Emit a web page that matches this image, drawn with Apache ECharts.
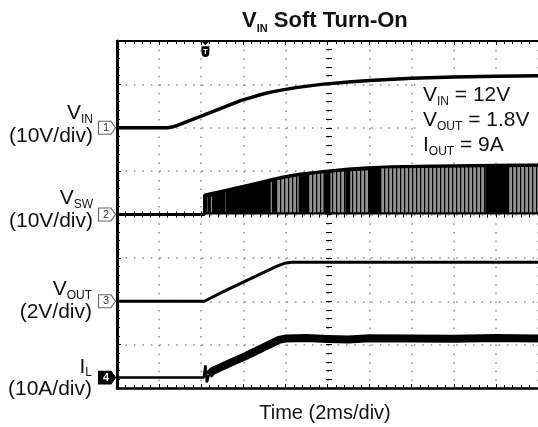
<!DOCTYPE html>
<html><head><meta charset="utf-8">
<script src="https://cdn.jsdelivr.net/npm/echarts@6/dist/echarts.min.js"></script>
<style>html,body{margin:0;padding:0;background:#fff}#c{width:538px;height:427px}</style>
</head><body><div id="c"></div>
<script>
// ---------------- data (time in ms, 2 ms/div) ----------------
const timeMin = 0, timeMax = 20, timeDiv = 2;
const vDivs = 8;
// channel settings: units per division and ground level (in divisions from bottom)
const chScale  = [10, 10, 2, 10];      // VIN V/div, VSW V/div, VOUT V/div, IL A/div
const chGround = [6, 4, 2, 0.24];
const triggerT = 4.2;

// VIN (V)
const vinT = [0, 2.4, 2.6, 2.8, 3.2, 4.0, 5.0, 5.9, 6.4, 6.8, 7.2, 7.6, 8.5, 9.7, 11.0, 12.0, 14.0, 16.0, 18.0, 20.0];
const vinV = [0, 0, 0.15, 0.45, 1.2, 2.7, 4.6, 6.3, 7.0, 7.6, 8.1, 8.5, 9.25, 10.0, 10.55, 10.9, 11.4, 11.7, 11.9, 12.0];

// VSW envelope (V)
const swT = [0, 4.15, 4.16, 5.19, 6.27, 7.22, 7.83, 8.63, 9.91, 10.99, 11.93, 13.0, 15.0, 17.0, 19.0, 20.0];
const swV = [0, 0, 4.5, 5.6, 6.8, 7.9, 8.6, 9.3, 10.0, 10.5, 10.75, 11.0, 11.2, 11.3, 11.4, 11.4];
// VSW aliased (grey) bands: [tStart, tEnd, topStart, topEnd]
const swGrey = [
  [4.30, 4.36, 4.0, 4.0], [4.46, 4.52, 4.1, 4.1], [5.10, 5.16, 5.0, 5.0], [7.30, 7.36, 7.5, 7.5],
  [7.59, 8.63, 7.9, 8.8], [9.10, 9.81, 9.1, 9.5], [10.14, 10.85, 9.6, 10.0], [11.08, 11.93, 10.0, 10.2],
  [12.55, 17.50, 10.6, 10.9], [18.58, 20.0, 10.9, 11.0]
];

// VOUT (V)
const voT = [0, 4.15, 4.2, 5.0, 6.0, 7.0, 7.6, 7.95, 8.3, 20];
const voV = [0, 0, 0.05, 0.42, 0.88, 1.34, 1.62, 1.75, 1.8, 1.8];

// IL (A)
const ilBaseT = [0, 4.12, 4.2, 4.27, 4.36];
const ilBaseV = [0, 0, 2.8, -1.1, 0.6];
const ilT = [4.36, 4.53, 5.3, 6.13, 6.89, 7.4, 7.69, 8.0, 9.0, 10.0, 11.0, 12.0, 14.0, 16.0, 18.0, 20.0];
const ilV = [0.6, 1.5, 3.2, 5.0, 6.8, 8.0, 8.7, 9.0, 9.1, 8.9, 8.8, 9.05, 9.0, 8.95, 9.1, 9.0];

// ---------------- chart ----------------
const zip = (a, b) => a.map((x, i) => [x, b[i]]);
const FF = 'Liberation Sans, Arial, Helvetica, sans-serif';
const TXT = '#111';

const pc = document.createElement('canvas'); pc.width = 4; pc.height = 4;
const g2 = pc.getContext('2d');
g2.fillStyle = '#929292'; g2.fillRect(0, 0, 4, 4);
g2.fillStyle = '#000'; g2.fillRect(0, 0, 1.2, 4);
const greyPattern = { image: pc, repeat: 'repeat' };

function chAxis(i) {
  return { type: 'value', min: -chGround[i] * chScale[i], max: (vDivs - chGround[i]) * chScale[i],
    show: false, splitLine: { show: false } };
}
const markerPath = 'path://M0,0L11,0L15,6L11,12L0,12Z';
function chMarkerItem(label, filled) {
  return { coord: [0, 0], symbol: markerPath, symbolSize: [17, 13], symbolOffset: [-10, 0],
    itemStyle: { color: filled ? '#000' : '#fff', borderColor: filled ? '#000' : '#666', borderWidth: 1 },
    label: { show: true, position: 'inside', formatter: label, color: filled ? '#fff' : '#333', fontSize: 11, fontFamily: FF, fontWeight: filled ? 'bold' : 'normal', offset: [-1, 0] } };
}
const tickBlack = { color: '#000', width: 1 };
function xAx(extra) {
  return Object.assign({ type: 'value', min: timeMin, max: timeMax, interval: timeDiv,
    axisLabel: { show: false }, splitLine: { show: false },
    axisLine: { show: false, onZero: false },
    axisTick: { show: true, inside: true, length: 4, lineStyle: tickBlack },
    minorTick: { show: true, splitNumber: 5, length: 3, lineStyle: tickBlack } }, extra);
}
function yAx(extra) {
  return Object.assign({ type: 'value', min: 0, max: vDivs, interval: 1,
    axisLabel: { show: false }, splitLine: { show: false },
    axisLine: { show: false, onZero: false },
    axisTick: { show: true, inside: true, length: 4, lineStyle: tickBlack },
    minorTick: { show: true, splitNumber: 5, length: 3, lineStyle: tickBlack } }, extra);
}

function label2(x, yTop, main, sub, line2, subH, gap) {
  return [
    { type: 'text', x: x, y: yTop, z: 60, style: {
      text: '{m|' + main + '}{s|' + sub + '}', align: 'right', textAlign: 'right', verticalAlign: 'top', textVerticalAlign: 'top', fill: TXT,
      rich: { m: { fontSize: 21, fontFamily: FF, lineHeight: 24, fill: TXT }, s: { fontSize: 12, fontFamily: FF, lineHeight: subH, verticalAlign: 'bottom', fill: TXT } } } },
    { type: 'text', x: x, y: yTop + gap, z: 60, style: {
      text: line2, font: '21px ' + FF, align: 'right', textAlign: 'right', verticalAlign: 'top', textVerticalAlign: 'top', fill: TXT } }
  ];
}
function noteLine(x, yTop, main, sub, rest) {
  return { type: 'text', x: x, y: yTop, z: 60, style: {
    text: '{m|' + main + '}{s|' + sub + '}{m|' + rest + '}', align: 'left', textAlign: 'left', verticalAlign: 'top', textVerticalAlign: 'top', fill: TXT,
    rich: { m: { fontSize: 21, fontFamily: FF, lineHeight: 24, fill: TXT }, s: { fontSize: 12, fontFamily: FF, lineHeight: 7, verticalAlign: 'bottom', fill: TXT } } } };
}

const option = {
  animation: false,
  backgroundColor: '#fff',
  title: {
    left: 237, top: 3,
    text: '{v|V}{s|IN}{v| Soft Turn-On}',
    textStyle: { rich: {
      v: { fontSize: 22, fontWeight: 'bold', fontFamily: FF, color: TXT, lineHeight: 26 },
      s: { fontSize: 11, fontWeight: 'bold', fontFamily: FF, color: TXT, lineHeight: 10, verticalAlign: 'bottom' } } }
  },
  grid: { left: 117, top: 41, width: 424, height: 347, containLabel: false },
  xAxis: [
    xAx({ position: 'bottom', axisLine: { show: true, onZero: false, lineStyle: { color: '#000', width: 2.5 } },
      splitLine: { show: true, lineStyle: { color: '#8a8a8a', width: 1.5, type: [1.5, 7.18] } } }),
    xAx({ position: 'top', axisLine: { show: true, onZero: false, lineStyle: { color: '#000', width: 2 } } }),
    xAx({ position: 'bottom', offset: -173.5, axisTick: { show: true, inside: true, length: 3, lineStyle: tickBlack }, minorTick: { show: true, splitNumber: 5, length: 3, lineStyle: tickBlack } }),
    xAx({ position: 'bottom', offset: -173.5, axisTick: { show: true, inside: false, length: 3, lineStyle: tickBlack }, minorTick: { show: true, splitNumber: 5, length: 3, lineStyle: tickBlack } })
  ],
  yAxis: [
    yAx({ position: 'left', axisLine: { show: true, onZero: false, lineStyle: { color: '#000', width: 3 } },
      splitLine: { show: true, lineStyle: { color: '#8a8a8a', width: 1.5, type: [1.5, 6.98] } } }),
    yAx({ position: 'left', offset: -212, axisTick: { show: true, inside: true, length: 3, lineStyle: tickBlack } }),
    yAx({ position: 'left', offset: -212, axisTick: { show: true, inside: false, length: 3, lineStyle: tickBlack } }),
    chAxis(0), chAxis(1), chAxis(2), chAxis(3)
  ],
  series: [
    { name: 'VSW', type: 'line', yAxisIndex: 4, data: zip(swT, swV), showSymbol: false, z: 3,
      lineStyle: { color: '#000', width: 3 }, areaStyle: { color: '#000', opacity: 1 },
      markPoint: { silent: true, data: [chMarkerItem('2', false)] } },
    { name: 'VSW grey', type: 'custom', yAxisIndex: 4, data: swGrey, z: 4, clip: true,
      renderItem: function (params, api) {
        const a = api.coord([api.value(0), 0.5]);
        const b = api.coord([api.value(0), api.value(2)]);
        const c = api.coord([api.value(1), api.value(3)]);
        const d = api.coord([api.value(1), 0.5]);
        return { type: 'polygon', shape: { points: [a, b, c, d] }, style: { fill: greyPattern } };
      } },
    { name: 'VIN', type: 'line', yAxisIndex: 3, data: zip(vinT, vinV), showSymbol: false, z: 5,
      smooth: false, lineStyle: { color: '#000', width: 3.5, join: 'round' },
      markPoint: {
        silent: true,
        data: [
          chMarkerItem('1', false),
          { coord: [triggerT, (vDivs - chGround[0]) * chScale[0]], symbol: 'path://M0,0L8,0L4,4Z M0.5,5L7.5,5L7.5,11Q7.5,15 4,15Q0.5,15 0.5,11Z',
            symbolSize: [9, 16], symbolOffset: [0, 8], itemStyle: { color: '#000' },
            label: { show: true, position: 'inside', formatter: 'T', color: '#fff', fontSize: 8, fontWeight: 'bold', fontFamily: FF, offset: [0, 3] } }
        ]
      } },
    { name: 'VOUT', type: 'line', yAxisIndex: 5, data: zip(voT, voV), showSymbol: false, z: 5,
      lineStyle: { color: '#000', width: 3 }, markPoint: { silent: true, data: [chMarkerItem('3', false)] } },
    { name: 'IL base', type: 'line', yAxisIndex: 6, data: zip(ilBaseT, ilBaseV), showSymbol: false, z: 5,
      lineStyle: { color: '#000', width: 2.5 }, markPoint: { silent: true, data: [chMarkerItem('4', true)] } },
    { name: 'IL', type: 'line', yAxisIndex: 6, data: zip(ilT, ilV), showSymbol: false, z: 5,
      lineStyle: { color: '#000', width: 8, join: 'round' } }
  ],
  graphic: [].concat(
    [{ type: 'rect', z: 50, shape: { x: 416, y: 82, width: 130, height: 78 }, style: { fill: '#fff' } }],
    label2(93, 101.5, 'V', 'IN', '(10V/div)', 12, 24),
    label2(93, 186.5, 'V', 'SW', '(10V/div)', 4, 24),
    label2(92, 277.5, 'V', 'OUT', '(2V/div)', 8, 24),
    label2(92, 355, 'I', 'L', '(10A/div)', 4, 24),
    [noteLine(423, 83.5, 'V', 'IN', ' = 12V'),
     noteLine(423, 108.5, 'V', 'OUT', ' = 1.8V'),
     noteLine(423, 133.5, 'I', 'OUT', ' = 9A'),
     { type: 'text', x: 325, y: 413.5, z: 60, style: { text: 'Time (2ms/div)', font: '20px ' + FF, fill: TXT,
       align: 'center', textAlign: 'center', verticalAlign: 'middle', textVerticalAlign: 'middle' } }]
  )
};
const chart = echarts.init(document.getElementById('c'), null, { renderer: 'canvas' });
chart.setOption(option);
</script></body></html>
